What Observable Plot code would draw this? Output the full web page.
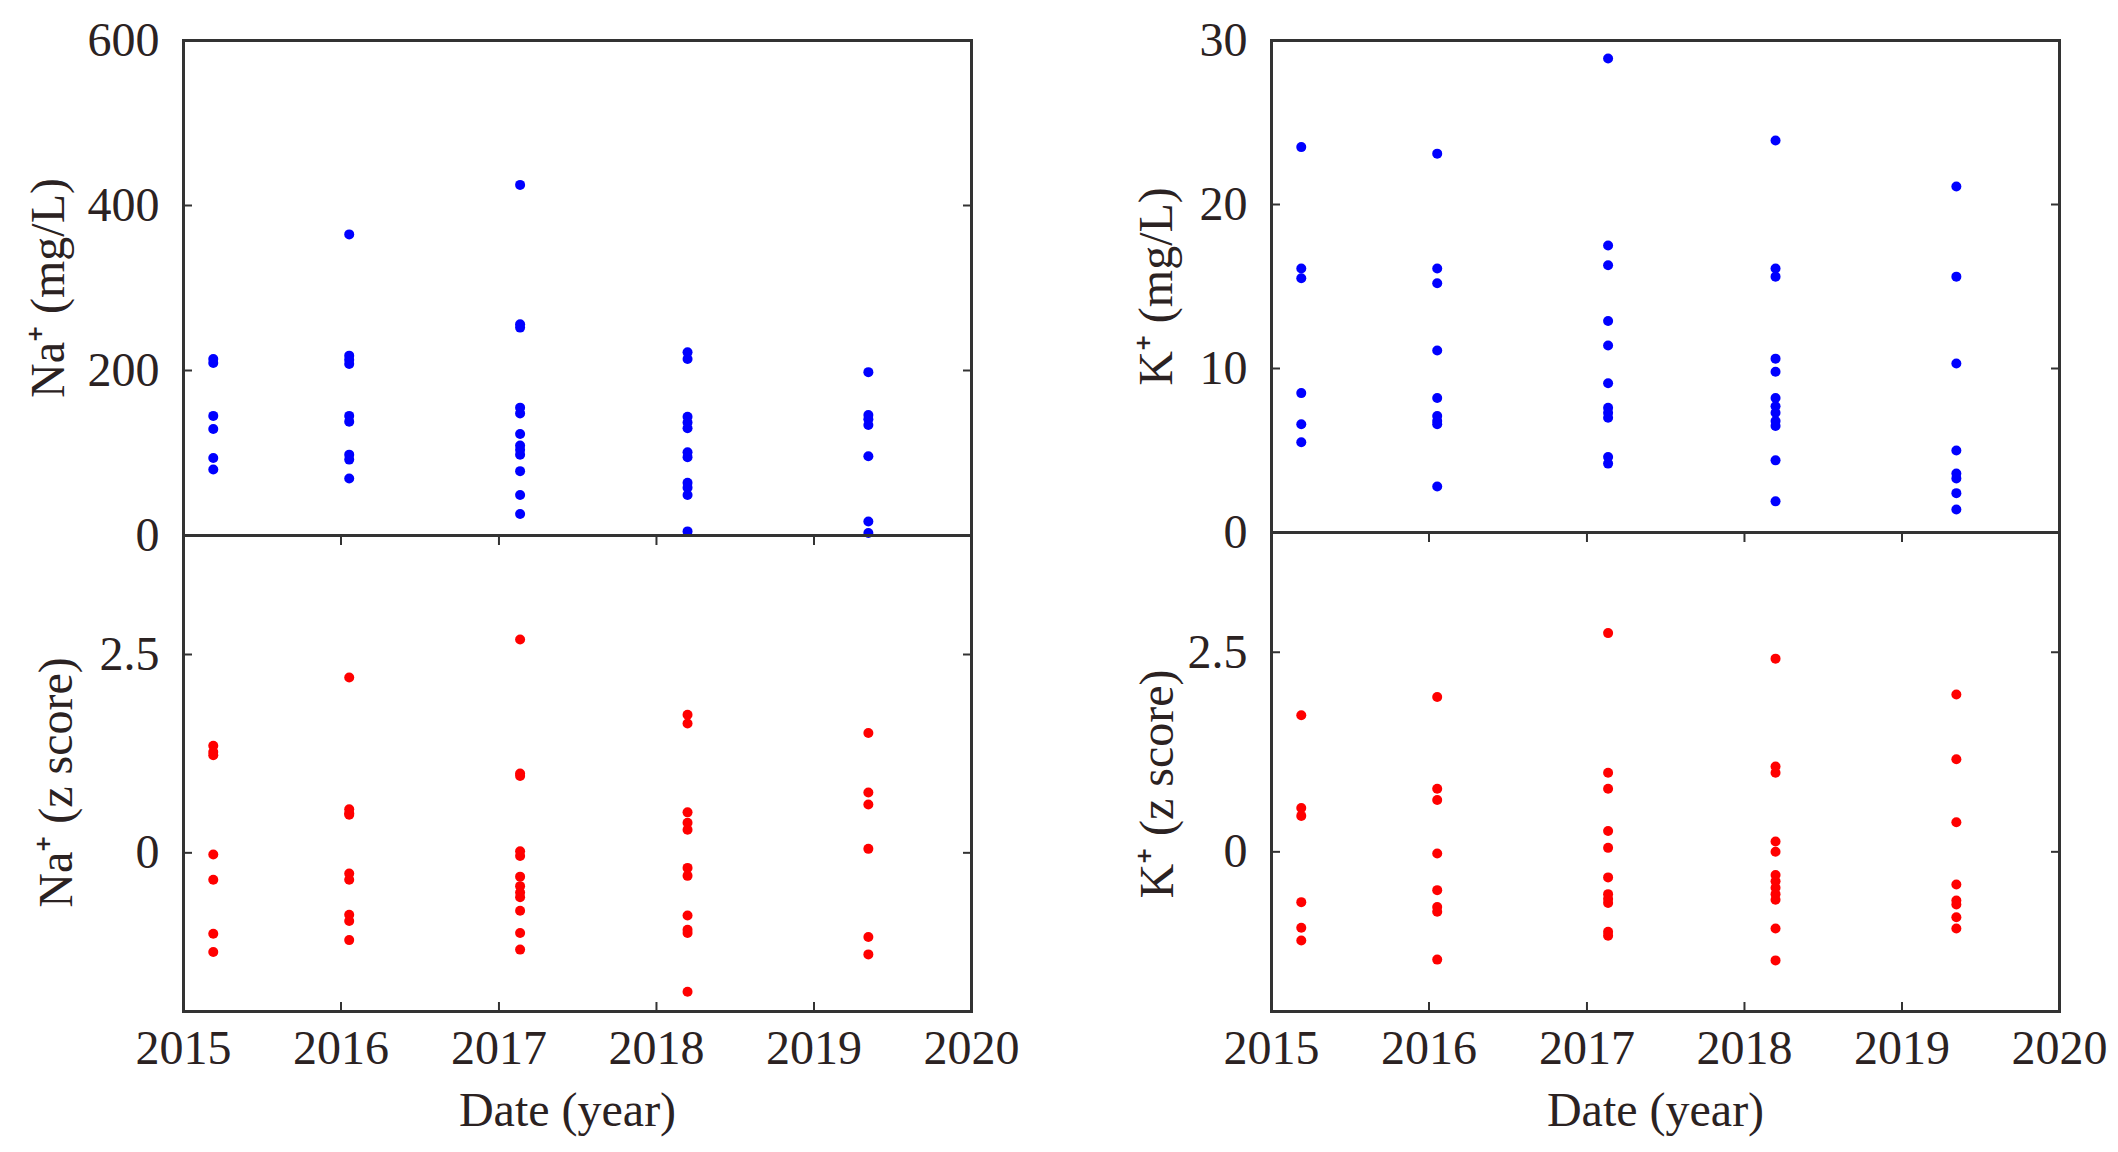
<!DOCTYPE html>
<html>
<head>
<meta charset="utf-8">
<script src="https://cdn.jsdelivr.net/npm/d3@7"></script>
<script src="https://cdn.jsdelivr.net/npm/@observablehq/plot@0.6"></script>
<style>
html, body { margin: 0; padding: 0; background: #fff; }
#chart { position: relative; width: 2118px; height: 1152px; background: #fff; overflow: hidden; }
#chart svg { position: absolute; overflow: visible; }
</style>
</head>
<body>
<div id="chart"></div>
<script>
// Sampling campaigns (one per year)
const sampleDates = ["2015-03-11", "2016-01-20", "2017-02-19", "2018-03-14", "2019-05-07"];

// Na+ concentration (mg/L), per campaign
const naMgL = [
  [214, 209, 145, 129, 94, 80],
  [365, 218, 213, 208, 145, 138, 98, 92, 69],
  [425, 256, 252, 155, 148, 123, 109, 104, 98, 78, 49, 26],
  [222, 214, 144, 137, 130, 101, 95, 64, 58, 49, 5],
  [198, 146, 141, 134, 96, 17, 3]
];
// Na+ z score, per campaign
const naZ = [
  [1.35, 1.27, 1.23, -0.02, -0.34, -1.02, -1.25],
  [2.21, 0.55, 0.50, 0.48, -0.26, -0.34, -0.78, -0.86, -1.10],
  [2.69, 1.00, 0.97, 0.02, -0.04, -0.30, -0.42, -0.50, -0.56, -0.73, -1.01, -1.22],
  [1.74, 1.63, 0.51, 0.38, 0.29, -0.19, -0.29, -0.79, -0.97, -1.01, -1.75],
  [1.51, 0.76, 0.61, 0.05, -1.06, -1.28]
];
// K+ concentration (mg/L), per campaign
const kMgL = [
  [23.5, 16.1, 15.5, 8.5, 6.6, 5.5],
  [23.1, 16.1, 15.2, 11.1, 8.2, 7.1, 6.8, 6.6, 2.8],
  [28.9, 17.5, 16.3, 12.9, 11.4, 9.1, 7.6, 7.3, 7.0, 4.6, 4.2],
  [23.9, 16.1, 15.6, 10.6, 9.8, 8.2, 7.7, 7.3, 6.8, 6.5, 4.4, 1.9],
  [21.1, 15.6, 10.3, 5.0, 3.6, 3.3, 2.4, 1.4]
];
// K+ z score, per campaign
const kZ = [
  [1.71, 0.55, 0.45, -0.63, -0.95, -1.11],
  [1.94, 0.79, 0.65, -0.02, -0.48, -0.69, -0.75, -1.35],
  [2.74, 0.99, 0.79, 0.26, 0.05, -0.32, -0.53, -0.59, -0.64, -1.00, -1.05],
  [2.42, 1.07, 0.99, 0.13, 0.00, -0.29, -0.37, -0.45, -0.53, -0.60, -0.96, -1.36],
  [1.97, 1.16, 0.37, -0.41, -0.61, -0.66, -0.82, -0.96]
];

// Axis tick values and labels
const yearTicks = ["2015", "2016", "2017", "2018", "2019", "2020"];
const naTicks = [0, 200, 400, 600];
const kTicks = [0, 10, 20, 30];
const zTicks = [0, 2.5];
const naLabels = ["Na\u207A (mg/L)", "Na\u207A (z score)"];
const kLabels = ["K\u207A (mg/L)", "K\u207A (z score)"];
const xLabel = "Date (year)";

const parse = d3.utcParse("%Y-%m-%d");
const flatten = (groups) => groups.flatMap((vals, i) => vals.map(v => ({date: parse(sampleDates[i]), value: v})));
const xTickDates = yearTicks.map(y => d3.utcParse("%Y")(y));

const FONT = "Liberation Serif, Times New Roman, serif";
const TEXT = "#2b2222";
const FRAME = "#333";
const FS = 48;

function panel({values, fill, yDomain, yTicks, yLabel, labelDx, labelDy = 0, bottom,
                left, top, width, height, marginLeft, marginRight, marginTop, marginBottom}) {
  const marks = [
    Plot.dot(flatten(values), {x: "date", y: "value", r: 5, fill, stroke: null}),
    Plot.axisY(yTicks, {anchor: "left", tickSize: 0, tickPadding: 24, fontSize: FS, label: null,
                        tickFormat: d => String(d)}),
    Plot.axisY(yTicks, {anchor: "left", tickSize: 9, dx: 9, strokeWidth: 2, stroke: FRAME, tickFormat: () => "", label: null}),
    Plot.axisY(yTicks, {anchor: "right", tickSize: 9, dx: -9, strokeWidth: 2, stroke: FRAME, tickFormat: () => "", label: null}),
    Plot.text([yLabel], {frameAnchor: "left", text: d => d, rotate: -90, dx: labelDx, dy: labelDy,
                         textAnchor: "middle", lineAnchor: "middle",
                         fontSize: FS, fontFamily: FONT, fill: TEXT}),
    Plot.frame({stroke: FRAME, strokeWidth: 3})
  ];
  if (bottom) {
    marks.push(
      Plot.axisX(xTickDates, {anchor: "bottom", tickSize: 0, tickPadding: 18, fontSize: FS, label: null,
                              tickFormat: d3.utcFormat("%Y")}),
      Plot.axisX(xTickDates, {anchor: "bottom", tickSize: 9, dy: -9, strokeWidth: 2, stroke: FRAME, tickFormat: () => "", label: null}),
      Plot.axisX(xTickDates, {anchor: "top", tickSize: 9, dy: 9, strokeWidth: 2, stroke: FRAME, tickFormat: () => "", label: null}),
      Plot.text([xLabel], {frameAnchor: "bottom", text: d => d, dy: 114, dx: -10,
                           textAnchor: "middle", lineAnchor: "bottom",
                           fontSize: FS, fontFamily: FONT, fill: TEXT})
    );
  }
  const svg = Plot.plot({
    width, height, marginLeft, marginRight, marginTop, marginBottom,
    style: {fontFamily: FONT, color: TEXT, background: "transparent", overflow: "visible", maxWidth: "none"},
    x: {type: "utc", domain: [xTickDates[0], xTickDates[5]], axis: bottom ? undefined : null},
    y: {domain: yDomain},
    marks
  });
  svg.style.left = left + "px";
  svg.style.top = top + "px";
  document.getElementById("chart").appendChild(svg);
}

// Left column: Na+
panel({values: naMgL, fill: "#0000ff", yDomain: [0, 600], yTicks: naTicks, yLabel: naLabels[0],
       labelDx: -135, bottom: false, left: 0, top: 0, width: 1000, height: 535,
       marginLeft: 183, marginRight: 29, marginTop: 40, marginBottom: 0});
panel({values: naZ, fill: "#ff0000", yDomain: [-2, 4], yTicks: zTicks, yLabel: naLabels[1],
       labelDx: -127, labelDy: 9, bottom: true, left: 0, top: 535, width: 1000, height: 617,
       marginLeft: 183, marginRight: 29, marginTop: 0, marginBottom: 141});
// Right column: K+
panel({values: kMgL, fill: "#0000ff", yDomain: [0, 30], yTicks: kTicks, yLabel: kLabels[0],
       labelDx: -115, bottom: false, left: 1060, top: 0, width: 1058, height: 532,
       marginLeft: 211, marginRight: 59, marginTop: 40, marginBottom: 0});
panel({values: kZ, fill: "#ff0000", yDomain: [-2, 4], yTicks: zTicks, yLabel: kLabels[1],
       labelDx: -114, labelDy: 12, bottom: true, left: 1060, top: 532, width: 1058, height: 620,
       marginLeft: 211, marginRight: 59, marginTop: 0, marginBottom: 141});
</script>
</body>
</html>
